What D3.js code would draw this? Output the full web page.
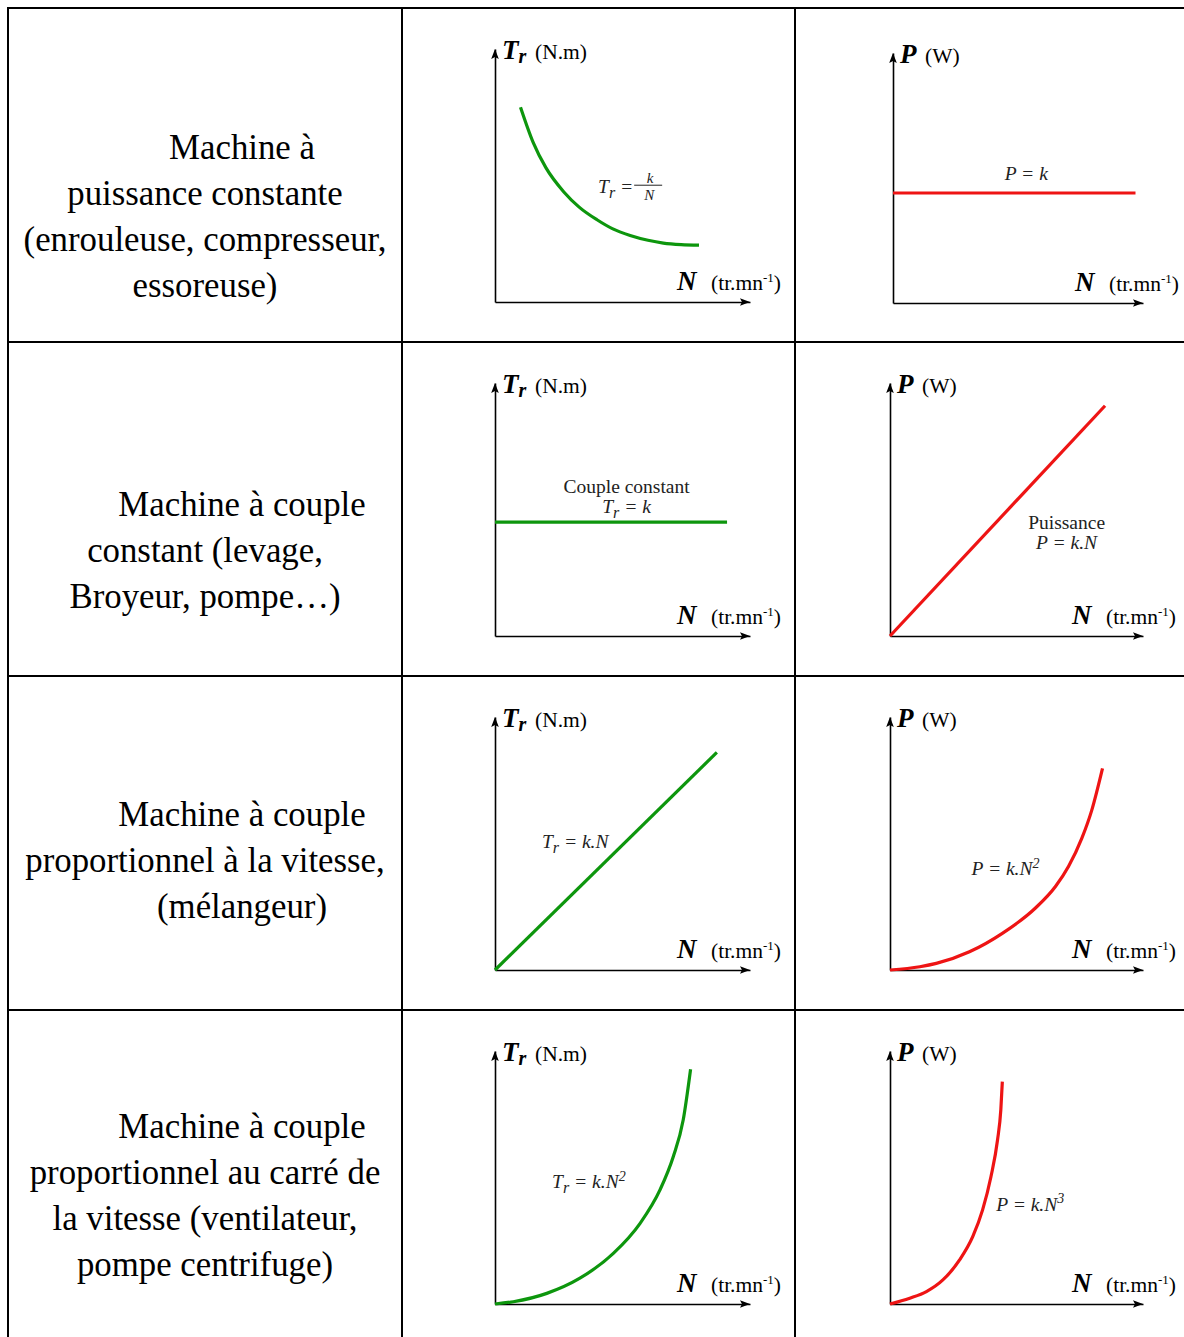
<!DOCTYPE html>
<html>
<head>
<meta charset="utf-8">
<script src="https://cdn.jsdelivr.net/npm/d3@7"></script>
<style>
  body { margin: 0; background: #fff; }
  svg { display: block; }
  text { font-family: "Liberation Serif", "Times New Roman", serif; }
</style>
</head>
<body>
<script>
// ---- Row descriptions (left column); second value = first-line indent ----
const machineLabels = [
  [["Machine à", 1], ["puissance constante", 0], ["(enrouleuse, compresseur,", 0], ["essoreuse)", 0]],
  [["Machine à couple", 1], ["constant (levage,", 0], ["Broyeur, pompe…)", 0]],
  [["Machine à couple", 1], ["proportionnel à la vitesse,", 0], ["(mélangeur)", 1]],
  [["Machine à couple", 1], ["proportionnel au carré de", 0], ["la vitesse (ventilateur,", 0], ["pompe centrifuge)", 0]]
];

// ---- Curves: speed N (x) against torque Tr or power P (y), axis units 0–100 ----
const hyperN  = [10, 15, 20, 27, 33, 40, 46, 53, 60, 66, 73, 80];
const hyperTr = [77, 63, 53, 43.5, 37.5, 32.5, 29, 26.3, 24.4, 23.3, 22.7, 22.5];

const constPowerN = [0, 97];
const constPowerP = [44, 44];

const constTorqueN  = [0, 91];
const constTorqueTr = [45, 45];

const linPowerN = [0, 85];
const linPowerP = [0, 91];

const linTorqueN  = [0, 87];
const linTorqueTr = [0, 86];

const quadPowerN = [0, 11.8, 18.3, 31.4, 44.4, 57.5, 65.4, 70.6, 75.8, 79.7, 84.0];
const quadPowerP = [0, 1.3, 2.6, 7.2, 14.5, 24.5, 33.0, 41.0, 52.0, 63.0, 79.7];

const quadTorqueN  = [0, 7.2, 20.3, 33.3, 46.4, 56.9, 64.7, 69.9, 73.8, 76.7];
const quadTorqueTr = [0, 0.9, 4.2, 10.2, 20.0, 31.9, 45.1, 58.2, 72.7, 92.8];

const cubePowerN = [0, 7.8, 14.4, 20.9, 27.5, 32.7, 36.6, 39.9, 42.5, 43.8, 44.4];
const cubePowerP = [0, 2.3, 4.9, 9.5, 17.4, 26.6, 37.2, 50.3, 64.8, 76.7, 87.9];

// ---- Axis titles ----
const torqueAxis = { sym: "T", sub: "r", unit: "(N.m)", unitDx: 33 };
const powerAxis  = { sym: "P", sub: "",  unit: "(W)",   unitDx: 25 };

const GREEN = "#0d960d";
const RED = "#ee1414";
const EQ_SIZE = 19.5;
const FRAC_SIZE = 15;

// ---- Graph cells ----
const charts = [
  { row: 0, col: 1, axis: torqueAxis, color: GREEN, n: hyperN, v: hyperTr,
    eqs: [{ x: 40.4, y: 43, anchor: "start", parts: [["T"], ["r", "sub"], [" ="]], frac: ["k", "N"] }] },
  { row: 0, col: 2, axis: powerAxis, color: RED, n: constPowerN, v: constPowerP, dx: 3, dy: 1,
    eqs: [{ x: 53.3, y: 49.2, anchor: "middle", parts: [["P = k"]] }] },
  { row: 1, col: 1, axis: torqueAxis, color: GREEN, n: constTorqueN, v: constTorqueTr,
    eqs: [{ x: 51.6, y: 56.5, anchor: "middle", upright: true, parts: [["Couple constant"]] },
          { x: 51.6, y: 48.6, anchor: "middle", parts: [["T"], ["r", "sub"], [" = k"]] }] },
  { row: 1, col: 2, axis: powerAxis, color: RED, n: linPowerN, v: linPowerP,
    eqs: [{ x: 69.8, y: 42.3, anchor: "middle", upright: true, parts: [["Puissance"]] },
          { x: 69.8, y: 34.4, anchor: "middle", parts: [["P = k.N"]] }] },
  { row: 2, col: 1, axis: torqueAxis, color: GREEN, n: linTorqueN, v: linTorqueTr,
    eqs: [{ x: 18.4, y: 48.2, anchor: "start", parts: [["T"], ["r", "sub"], [" = k.N"]] }] },
  { row: 2, col: 2, axis: powerAxis, color: RED, n: quadPowerN, v: quadPowerP,
    eqs: [{ x: 32.2, y: 37.5, anchor: "start", parts: [["P = k.N"], ["2", "sup"]] }] },
  { row: 3, col: 1, axis: torqueAxis, color: GREEN, n: quadTorqueN, v: quadTorqueTr,
    eqs: [{ x: 22.4, y: 45.8, anchor: "start", parts: [["T"], ["r", "sub"], [" = k.N"], ["2", "sup"]] }] },
  { row: 3, col: 2, axis: powerAxis, color: RED, n: cubePowerN, v: cubePowerP,
    eqs: [{ x: 42, y: 36.8, anchor: "start", parts: [["P = k.N"], ["3", "sup"]] }] }
];

// ---- Layout ----
const W = 1184, H = 1337;
const colX = [8, 402, 795];
const rowY = [8, 342, 676, 1010];
const textFirstBaseline = [151, 174, 150, 128];
const originDx = [0, 93, 95];
const originDy = 294;
const xLen = 255, yLen = 253;

const svg = d3.select("body").append("svg").attr("width", W).attr("height", H);
svg.append("rect").attr("width", W).attr("height", H).attr("fill", "#fff");

// Table grid
const grid = svg.append("g").attr("stroke", "#000").attr("stroke-width", 2).attr("shape-rendering", "crispEdges");
rowY.forEach(y => grid.append("line").attr("x1", colX[0] - 1).attr("x2", W).attr("y1", y).attr("y2", y));
colX.forEach(x => grid.append("line").attr("x1", x).attr("x2", x).attr("y1", rowY[0] - 1).attr("y2", H));

// Left column descriptions
machineLabels.forEach((lines, r) => {
  const cx = (colX[0] + colX[1]) / 2;
  lines.forEach(([t, indent], i) => {
    svg.append("text")
      .attr("x", cx + (indent ? 37 : 0))
      .attr("y", rowY[r] + textFirstBaseline[r] + i * 46)
      .attr("text-anchor", "middle")
      .attr("font-size", 34.8)
      .attr("fill", "#000")
      .text(t);
  });
});

// Append tspans with subscript / superscript offsets
function richText(sel, parts, size) {
  let shift = 0;
  parts.forEach(([t, s]) => {
    const d = s === "sub" ? size * 0.25 : s === "sup" ? -size * 0.38 : 0;
    sel.append("tspan")
      .attr("dy", d - shift)
      .attr("font-size", s === "sub" ? size * 0.82 : s ? size * 0.72 : size)
      .text(t);
    shift = d;
  });
}

function arrowHead(g, x, y, dir) {
  const L = 10, w = 3.8;
  const pts = dir === "right"
    ? [[x, y], [x - L, y - w], [x - L + 2, y], [x - L, y + w]]
    : [[x, y], [x - w, y + L], [x, y + L - 2], [x + w, y + L]];
  g.append("path").attr("d", "M" + pts.join("L") + "Z").attr("fill", "#000");
}

charts.forEach(c => {
  const ox = colX[c.col] + originDx[c.col] + (c.dx || 0);
  const oy = rowY[c.row] + originDy + (c.dy || 0);
  const xl = xLen - (c.dx || 0) - (c.col === 2 ? 2 : 0);
  const yl = yLen - 3 * (c.dy || 0);
  const x = d3.scaleLinear().domain([0, 100]).range([ox, ox + xl]);
  const y = d3.scaleLinear().domain([0, 100]).range([oy, oy - yl]);
  const g = svg.append("g");

  // Axes: domain lines only, with arrow heads
  const xAxis = g.append("g").attr("transform", `translate(0,${oy})`)
    .call(d3.axisBottom(x).tickValues([]).tickSizeOuter(0));
  const yAxis = g.append("g").attr("transform", `translate(${ox},0)`)
    .call(d3.axisLeft(y).tickValues([]).tickSizeOuter(0));
  [xAxis, yAxis].forEach(a => a.select(".domain").attr("stroke", "#000").attr("stroke-width", 1.6));
  arrowHead(g, x(100), oy, "right");
  arrowHead(g, ox, y(100), "up");

  // Y axis title
  const yt = g.append("text").attr("x", ox + 7).attr("y", y(100) + 10)
    .attr("font-weight", "bold").attr("font-style", "italic").attr("font-size", 27).attr("fill", "#000");
  yt.append("tspan").text(c.axis.sym);
  if (c.axis.sub) yt.append("tspan").attr("dy", 4).attr("font-size", 20).text(c.axis.sub);
  g.append("text").attr("x", ox + 7 + c.axis.unitDx).attr("y", y(100) + 10)
    .attr("font-size", 21.5).attr("fill", "#000").text(c.axis.unit);

  // X axis title
  g.append("text").attr("x", ox + 182).attr("y", oy - 12)
    .attr("font-weight", "bold").attr("font-style", "italic").attr("font-size", 27).attr("fill", "#000").text("N");
  const xu = g.append("text").attr("x", ox + 216).attr("y", oy - 12).attr("font-size", 21.5).attr("fill", "#000");
  xu.append("tspan").text("(tr.mn");
  xu.append("tspan").attr("dy", -8).attr("font-size", 13).text("-1");
  xu.append("tspan").attr("dy", 8).text(")");

  // Characteristic curve
  const pts = c.n.map((d, i) => [d, c.v[i]]);
  g.append("path")
    .attr("d", d3.line().x(d => x(d[0])).y(d => y(d[1])).curve(d3.curveMonotoneX)(pts))
    .attr("fill", "none").attr("stroke", c.color).attr("stroke-width", 3.2).attr("stroke-linecap", "butt");

  // Equation labels
  c.eqs.forEach(e => {
    const t = g.append("text").attr("x", x(e.x)).attr("y", y(e.y))
      .attr("text-anchor", e.anchor).attr("font-size", EQ_SIZE).attr("fill", "#222")
      .attr("font-style", e.upright ? "normal" : "italic");
    richText(t, e.parts, EQ_SIZE);
    if (e.frac) {
      // k over N, stacked on a fraction bar
      const start = x(e.x) + t.node().getComputedTextLength() + 1;
      const by = y(e.y) - 8;
      g.append("line").attr("x1", start).attr("x2", start + 28).attr("y1", by).attr("y2", by)
        .attr("stroke", "#222").attr("stroke-width", 1);
      g.append("text").attr("x", start + 16).attr("y", by - 2).attr("text-anchor", "middle")
        .attr("font-size", FRAC_SIZE).attr("font-style", "italic").attr("fill", "#222").text(e.frac[0]);
      g.append("text").attr("x", start + 15).attr("y", by + 15).attr("text-anchor", "middle")
        .attr("font-size", FRAC_SIZE).attr("font-style", "italic").attr("fill", "#222").text(e.frac[1]);
    }
  });
});
</script>
</body>
</html>
